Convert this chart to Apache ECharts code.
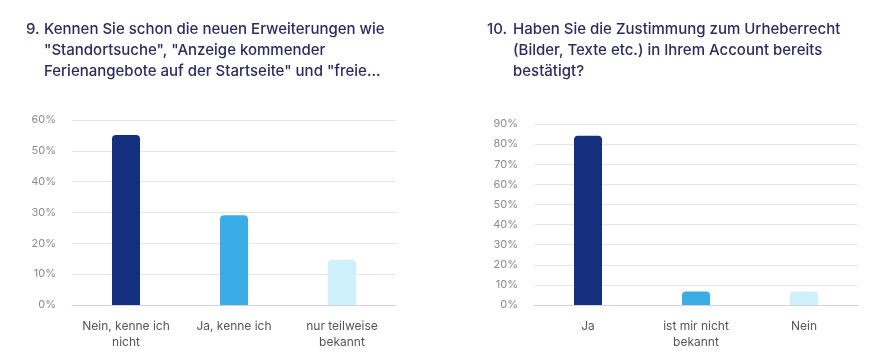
<!DOCTYPE html>
<html>
<head>
<meta charset="utf-8">
<script src="https://cdn.jsdelivr.net/npm/echarts@6/dist/echarts.min.js"></script>
<style>
  html, body { margin: 0; padding: 0; background: #fff; }
  #chart { width: 888px; height: 353px; }
</style>
</head>
<body>
<div id="chart"></div>
<script>
var q9Categories = ["Nein, kenne ich\nnicht", "Ja, kenne ich", "nur teilweise\nbekannt"];
var q9Values = [55.1, 29.1, 14.6];
var q10Categories = ["Ja", "ist mir nicht\nbekannt", "Nein"];
var q10Values = [84.1, 6.7, 6.7];
var barColors = ["#132f7e", "#3badE6", "#cdf0fa"];

var font = "Inter, 'Noto Sans', sans-serif";
var titleStyle = { fontFamily: font, fontSize: 15, fontWeight: 500, color: "#2b2c5e", lineHeight: 21 };

function coloured(values) {
    return values.map(function(v, i) {
        return { value: v, itemStyle: { color: barColors[i] } };
    });
}

function yAxis(idx, max) {
    return {
        type: "value", gridIndex: idx, min: 0, max: max, interval: 10,
        axisLabel: { formatter: "{value}%", color: "#8a8a8f", fontSize: 11, fontFamily: font, margin: 16 },
        splitLine: { lineStyle: { color: "#e6e6e9" } },
        axisLine: { show: false }, axisTick: { show: false }
    };
}

function xAxis(idx, cats) {
    return {
        type: "category", gridIndex: idx, data: cats,
        axisLabel: { interval: 0, color: "#555", fontSize: 12, fontFamily: font, margin: 13, lineHeight: 16 },
        axisLine: { lineStyle: { color: "#cfd3de" } },
        axisTick: { show: false }
    };
}

var chart = echarts.init(document.getElementById("chart"));
chart.setOption({
    animation: false,
    title: [
        { text: "9.", left: 21, top: 14, textStyle: titleStyle },
        { text: "Kennen Sie schon die neuen Erweiterungen wie\n\"Standortsuche\", \"Anzeige kommender\nFerienangebote auf der Startseite\" und \"freie...", left: 39, top: 14, textStyle: titleStyle },
        { text: "10.", left: 482, top: 14, textStyle: titleStyle },
        { text: "Haben Sie die Zustimmung zum Urheberrecht\n(Bilder, Texte etc.) in Ihrem Account bereits\nbestätigt?", left: 508, top: 14, textStyle: titleStyle }
    ],
    grid: [
        { left: 72, right: 492, top: 120, bottom: 48 },
        { left: 534, right: 30, top: 124, bottom: 48 }
    ],
    xAxis: [xAxis(0, q9Categories), xAxis(1, q10Categories)],
    yAxis: [yAxis(0, 60), yAxis(1, 90)],
    series: [
        { type: "bar", xAxisIndex: 0, yAxisIndex: 0, data: coloured(q9Values), barWidth: 28,
          itemStyle: { borderRadius: [4, 4, 0, 0] } },
        { type: "bar", xAxisIndex: 1, yAxisIndex: 1, data: coloured(q10Values), barWidth: 28,
          itemStyle: { borderRadius: [4, 4, 0, 0] } }
    ]
});
</script>
</body>
</html>
